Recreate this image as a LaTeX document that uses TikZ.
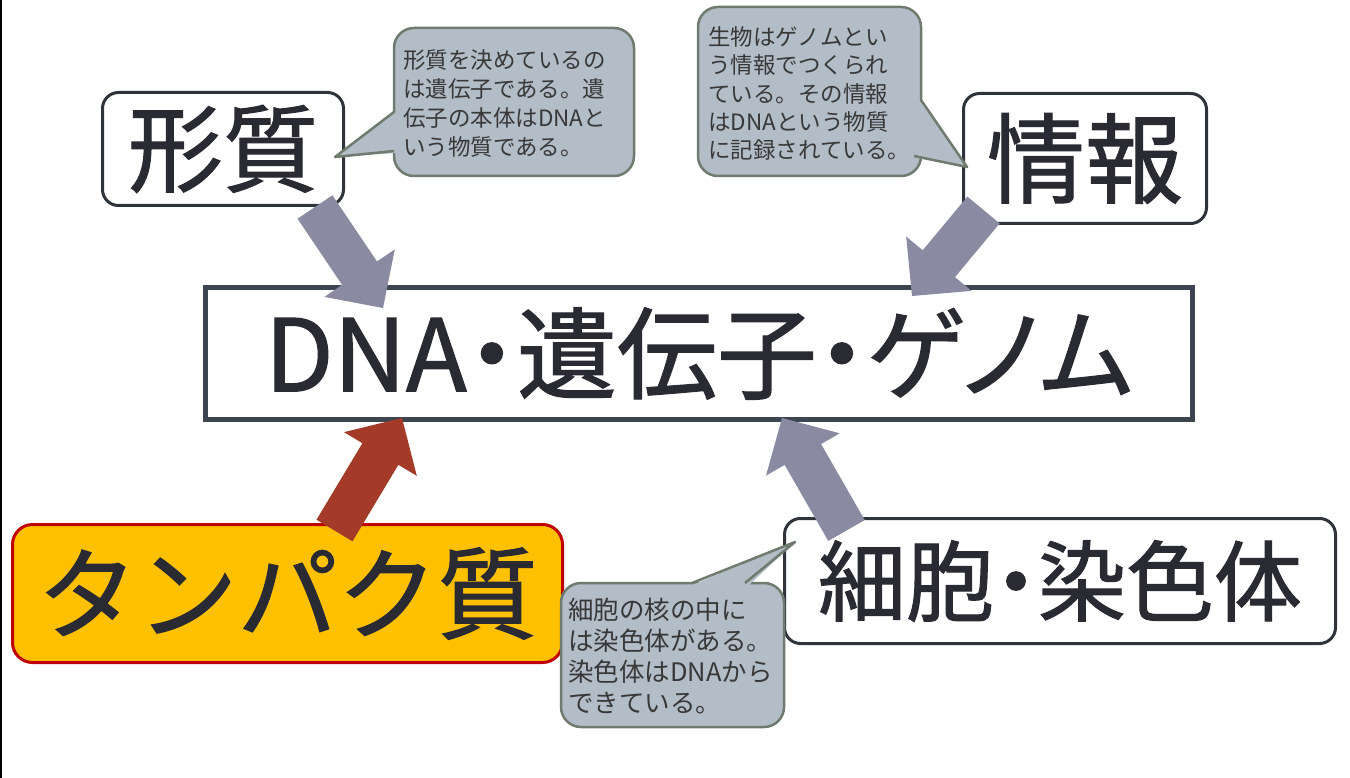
\documentclass[tikz,border=0pt]{standalone}
\usepackage{fontspec}
\setmainfont{Noto Sans CJK JP}
\newfontfamily\jpb[FakeBold=1.2]{Noto Sans CJK JP}
\newfontfamily\jpp[RawFeature=+palt,FakeBold=1.2]{Noto Sans CJK JP}
\usetikzlibrary{calc}
\definecolor{txt}{HTML}{2A2A33}
\definecolor{bord}{HTML}{2F343B}
\definecolor{mainbord}{HTML}{3C4550}
\definecolor{arrgray}{HTML}{8A8AA2}
\definecolor{arrred}{HTML}{A33B28}
\definecolor{cfill}{HTML}{B3BDC8}
\definecolor{cbord}{HTML}{6F7B6E}
\definecolor{ctxt}{HTML}{383838}
\definecolor{gold}{HTML}{FFC000}
\definecolor{redb}{HTML}{C00000}
\newcommand\blockarrow[3]{%
  \coordinate (hb) at ($(#2)!42pt!(#1)$);
  \fill[#3] ($(#1)!21pt!90:(#2)$) -- ($(hb)!21pt!90:(#2)$) -- ($(hb)!42.5pt!90:(#2)$) -- (#2)
    -- ($(hb)!42.5pt!-90:(#2)$) -- ($(hb)!21pt!-90:(#2)$) -- ($(#1)!21pt!-90:(#2)$) -- cycle;}
\tikzset{
  box/.style={draw=bord, line width=3pt, rounded corners=16pt, fill=white, text=txt, inner sep=0pt},
  mainbox/.style={draw=mainbord, line width=5pt, fill=white, text=txt, inner sep=0pt},
  protbox/.style={draw=redb, line width=3pt, rounded corners=20pt, fill=gold, text=txt, inner sep=0pt},
  callbox/.style={draw=cbord, line width=2.5pt, rounded corners=20pt, fill=cfill, inner sep=0pt},
  ptrfill/.style={fill=cfill},
  ptr/.style={draw=cbord, line width=2.5pt, line join=round},
  calltext/.style={text=ctxt, align=left, inner sep=0pt, anchor=west}
}
\begin{document}
\begin{tikzpicture}[x=1pt, y=-1pt]
\useasboundingbox (0,0) rectangle (1350,778);
\fill[white] (0,0) rectangle (1350,778);
\fill[black] (0,0) rectangle (2,778);
% boxes
\node[box, minimum width=241pt, minimum height=113pt, font=\jpb\fontsize{95}{100}\selectfont] (keishitsu) at (223,149) {形質};
\node[box, minimum width=243pt, minimum height=130pt, font=\jpb\fontsize{98}{100}\selectfont] (jouhou) at (1085,158.5) {情報};
\node[mainbox, minimum width=987pt, minimum height=132pt, font=\jpp\fontsize{100}{110}\selectfont] (dna) at (699,353.5) {DNA・遺伝子・ゲノム};
\node[box, minimum width=551pt, minimum height=125pt, font=\jpp\fontsize{88}{100}\selectfont] (saibou) at (1060,581) {細胞・染色体};
\node[protbox, minimum width=550pt, minimum height=138pt, font=\jpb\fontsize{100}{110}\selectfont] (tanpaku) at (287.5,593.5) {タンパク質};
% arrows
\coordinate (a1s) at (315,207); \coordinate (a1e) at (383,308);
\coordinate (a2s) at (983.5,210); \coordinate (a2e) at (912,296);
\coordinate (a3s) at (334.5,530.5); \coordinate (a3e) at (402,418);
\coordinate (a4s) at (846.5,530.5); \coordinate (a4e) at (782,418);
\blockarrow{a1s}{a1e}{arrgray}
\blockarrow{a2s}{a2e}{arrgray}
\blockarrow{a3s}{a3e}{arrred}
\blockarrow{a4s}{a4e}{arrgray}
% callout 1
\node[callbox, minimum width=240pt, minimum height=148pt] (c1) at (514,102) {};
\coordinate (c1tip) at (335,157);
\fill[ptrfill] (397,111) -- (c1tip) -- (397,153) -- cycle;
\draw[ptr] (394,112) -- (c1tip) -- (394,151);
\node[calltext, font=\fontsize{22.5}{29}\selectfont] (c1t) at (403,103) {形質を決めているの\\は遺伝子である。遺\\伝子の本体はDNAと\\いう物質である。};
% callout 2
\node[callbox, minimum width=223pt, minimum height=169pt] (c2) at (809.5,91.5) {};
\coordinate (c2tip) at (967,167);
\fill[ptrfill] (918,98) -- (c2tip) -- (912,157) -- cycle;
\draw[ptr] (921,100) -- (c2tip) -- (914,156);
\node[calltext, font=\fontsize{22.5}{28.3}\selectfont] (c2t) at (708,93.5) {生物はゲノムとい\\う情報でつくられ\\ている。その情報\\はDNAという物質\\に記録されている。};
% callout 3
\node[callbox, minimum width=223pt, minimum height=144pt] (c3) at (672.5,655) {};
\coordinate (c3tip) at (795,542);
\fill[ptrfill] (690,586) -- (c3tip) -- (748,586) -- cycle;
\draw[ptr] (692,583) -- (c3tip) -- (745,583);
\node[calltext, font=\fontsize{25.5}{31}\selectfont] (c3t) at (568,656.5) {細胞の核の中に\\は染色体がある。\\染色体はDNAから\\できている。};
\end{tikzpicture}
\end{document}
